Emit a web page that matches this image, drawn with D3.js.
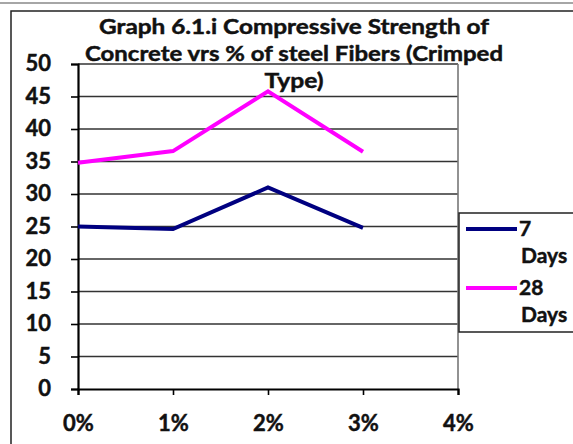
<!DOCTYPE html>
<html>
<head>
<meta charset="utf-8">
<script src="https://cdn.jsdelivr.net/npm/d3@7"></script>
<style>
  html, body { margin: 0; padding: 0; background: #fff; }
  svg { display: block; }
  text { font-family: Lato, "Open Sans", sans-serif; font-weight: bold; fill: #111; stroke: #111; stroke-width: 0.45px; }
</style>
</head>
<body>
<svg id="chart" width="573" height="444"></svg>
<script>
// Fibre content (%) on the x axis
const fibrePct = [0, 1, 2, 3];
// Compressive strength (N/mm²)
const days7 = [25.0, 24.6, 31.0, 24.8];
const days28 = [34.8, 36.6, 45.8, 36.5];
const seriesNames = ["7 Days", "28 Days"];
const yTicks = [0, 5, 10, 15, 20, 25, 30, 35, 40, 45, 50];
const xTicks = [0, 1, 2, 3, 4];
const titleLines = [
  "Graph 6.1.i Compressive Strength of",
  "Concrete vrs % of steel Fibers (Crimped",
  "Type)"
];

const W = 573, H = 444;
const FONT = "Lato, 'Open Sans', sans-serif";
const svg = d3.select("#chart");
svg.append("rect").attr("width", W).attr("height", H).attr("fill", "#fff");

// frame lines around the chart object
svg.append("line").attr("x1", 0).attr("x2", W).attr("y1", 3).attr("y2", 3)
  .attr("stroke", "#888").attr("stroke-width", 1.5);
svg.append("path").attr("d", `M11,${H + 2}V11H${W + 2}`)
  .attr("fill", "none").attr("stroke", "#222").attr("stroke-width", 1.5);

const plot = { left: 78, right: 458, top: 64, bottom: 389 };
const x = d3.scaleLinear().domain([0, 4]).range([plot.left, plot.right]);
const y = d3.scaleLinear().domain([0, 50]).range([plot.bottom, plot.top]);

// horizontal gridlines
svg.append("g").selectAll("line").data(yTicks.filter(d => d > 0)).join("line")
  .attr("x1", plot.left).attr("x2", plot.right)
  .attr("y1", d => y(d)).attr("y2", d => y(d))
  .attr("stroke", "#333").attr("stroke-width", 1.6);

// right edge of plot area
svg.append("line").attr("x1", plot.right).attr("x2", plot.right)
  .attr("y1", plot.top).attr("y2", plot.bottom)
  .attr("stroke", "#777").attr("stroke-width", 1.6);

// y axis
const yAxis = svg.append("g").attr("transform", `translate(${plot.left},0)`)
  .call(d3.axisLeft(y).tickValues(yTicks).tickSize(7).tickPadding(20));
yAxis.select(".domain").attr("stroke", "#000").attr("stroke-width", 2.2);
yAxis.selectAll(".tick line").attr("stroke", "#000").attr("stroke-width", 1.6);
yAxis.selectAll("text").attr("font-size", 22).attr("fill", "#111")
  .attr("font-family", FONT).attr("font-weight", "bold").attr("dy", "0.3em");

// x axis
const xAxis = svg.append("g").attr("transform", `translate(0,${plot.bottom})`)
  .call(d3.axisBottom(x).tickValues(xTicks).tickFormat(d => d + "%").tickSize(6).tickPadding(20));
xAxis.select(".domain").attr("stroke", "#000").attr("stroke-width", 2.2);
xAxis.selectAll(".tick line").attr("stroke", "#000").attr("stroke-width", 1.6);
xAxis.selectAll("text").attr("font-size", 22).attr("fill", "#111")
  .attr("font-family", FONT).attr("font-weight", "bold");

// series lines
const colors = ["#000080", "#ff00ff"];
const line = d3.line().x((d, i) => x(fibrePct[i])).y(d => y(d));
[days7, days28].forEach((vals, k) => {
  svg.append("path").datum(vals).attr("d", line)
    .attr("fill", "none").attr("stroke", colors[k])
    .attr("stroke-width", 4).attr("stroke-linejoin", "miter");
});

// title, three centred lines
const titleWidths = [390, 418, 59];
const title = svg.append("g");
titleLines.forEach((t, i) => {
  title.append("text").attr("x", 294).attr("y", 34 + i * 27)
    .attr("text-anchor", "middle").attr("font-size", 20)
    .attr("textLength", titleWidths[i]).attr("lengthAdjust", "spacingAndGlyphs")
    .text(t);
});

// legend
const lg = svg.append("g");
lg.append("path").attr("d", `M${W + 2},213H459V332H${W + 2}`)
  .attr("fill", "#fff").attr("stroke", "#222").attr("stroke-width", 1.5);
seriesNames.forEach((name, i) => {
  const cy = 229 + i * 59;
  lg.append("line").attr("x1", 466).attr("x2", 517).attr("y1", cy).attr("y2", cy)
    .attr("stroke", colors[i]).attr("stroke-width", 4);
  const parts = name.split(" ");
  lg.append("text").attr("x", 519).attr("y", cy + 7).attr("font-size", 21).text(parts[0]);
  lg.append("text").attr("x", 521).attr("y", cy + 34).attr("font-size", 21).text(parts[1]);
});
</script>
</body>
</html>
